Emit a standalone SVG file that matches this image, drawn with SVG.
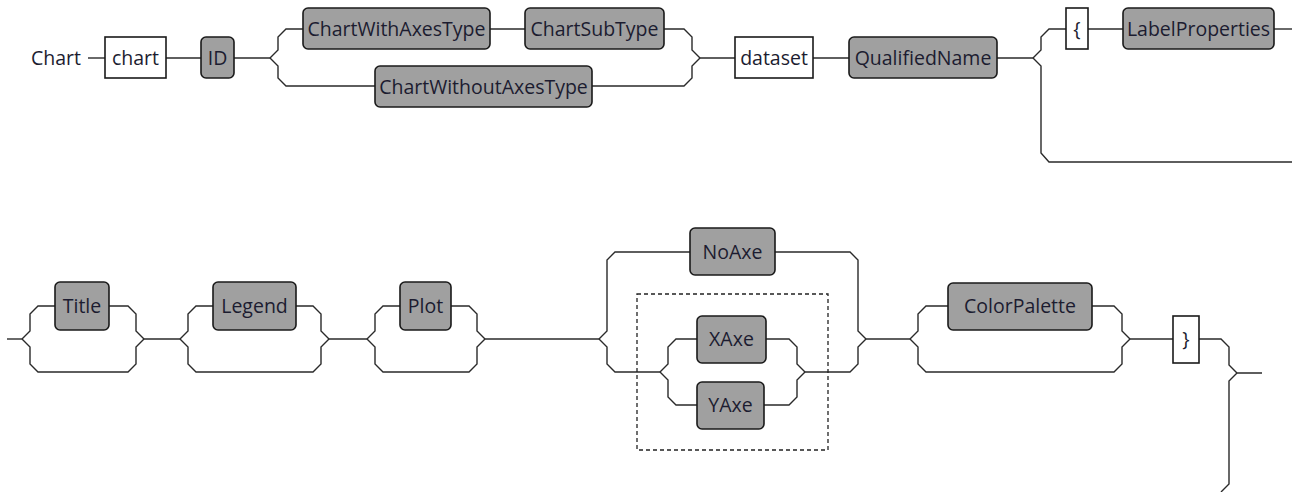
<svg xmlns="http://www.w3.org/2000/svg" width="1292" height="492" viewBox="0 0 1292 492">
<style>
.t{font-family:"Open Sans","DejaVu Sans",sans-serif;font-size:19.5px;fill:#1c1c30;text-anchor:middle}
.nt{fill:#a0a0a0;stroke:#1a1a1a;stroke-width:1.6}
.tm{fill:#ffffff;stroke:#1a1a1a;stroke-width:1.6}
.c{fill:none;stroke:#2a2a2a;stroke-width:1.4}
.d{fill:none;stroke:#222222;stroke-width:1.3;stroke-dasharray:4 3}
</style>
<rect width="1292" height="492" fill="#ffffff"/>
<g id="connectors">
<path class="c" d="M88,58 H105"/>
<path class="c" d="M166,58 H201"/>
<path class="c" d="M234,58 H270"/>
<path class="c" d="M270,58 L278,50 V37 L286,29 H303"/>
<path class="c" d="M490,29 H525"/>
<path class="c" d="M664,29 H684 L692,37 V50 L700,58"/>
<path class="c" d="M270,58 L278,66 V78 L286,86 H375"/>
<path class="c" d="M592,86 H684 L692,78 V66 L700,58"/>
<path class="c" d="M700,58 H735"/>
<path class="c" d="M813,58 H849"/>
<path class="c" d="M997,58 H1033"/>
<path class="c" d="M1033,58 L1041,50 V37 L1049,29 H1066"/>
<path class="c" d="M1088,29 H1123"/>
<path class="c" d="M1274,29 H1292"/>
<path class="c" d="M1033,58 L1041,66 V153 L1049,162 H1292"/>
<path class="c" d="M7,339 H22"/>
<path class="c" d="M22,339 L30,331 V314 L38,306 H55"/>
<path class="c" d="M109,306 H128 L136,314 V331 L144,339"/>
<path class="c" d="M22,339 L30,347 V364 L38,372 H128 L136,364 V347 L144,339"/>
<path class="c" d="M144,339 H180"/>
<path class="c" d="M180,339 L188,331 V314 L196,306 H213"/>
<path class="c" d="M296,306 H313 L321,314 V331 L329,339"/>
<path class="c" d="M180,339 L188,347 V364 L196,372 H313 L321,364 V347 L329,339"/>
<path class="c" d="M329,339 H367"/>
<path class="c" d="M367,339 L375,331 V314 L383,306 H400"/>
<path class="c" d="M451,306 H469 L477,314 V331 L485,339"/>
<path class="c" d="M367,339 L375,347 V364 L383,372 H469 L477,364 V347 L485,339"/>
<path class="c" d="M485,339 H599"/>
<path class="c" d="M599,339 L607,331 V260 L615,252 H690"/>
<path class="c" d="M775,252 H850 L858,260 V331 L866,339"/>
<path class="c" d="M599,339 L607,347 V364 L615,372 H660"/>
<path class="c" d="M660,372 L668,364 V347 L676,339 H697"/>
<path class="c" d="M766,339 H789 L797,347 V364 L805,372"/>
<path class="c" d="M660,372 L668,380 V397 L676,405 H697"/>
<path class="c" d="M764,405 H789 L797,397 V380 L805,372"/>
<path class="c" d="M805,372 H850 L858,364 V347 L866,339"/>
<path class="c" d="M866,339 H910"/>
<path class="c" d="M910,339 L918,331 V314 L926,306 H948"/>
<path class="c" d="M1092,306 H1114 L1122,314 V331 L1130,339"/>
<path class="c" d="M910,339 L918,347 V364 L926,372 H1114 L1122,364 V347 L1130,339"/>
<path class="c" d="M1130,339 H1173"/>
<path class="c" d="M1199,339 H1221 L1229,347 V365 L1237,373 H1262"/>
<path class="c" d="M1237,373 L1229,381 V484 L1221,492"/>
<rect class="d" x="637" y="294" width="191" height="156"/>
</g>
<g id="label-Chart"><text class="t" x="56" y="65">Chart</text></g>
<g id="n-chart"><rect class="tm" x="105" y="37" width="61" height="41"/><text class="t" x="135.5" y="65">chart</text></g>
<g id="n-ID"><rect class="nt" x="201" y="37" width="33" height="41" rx="5"/><text class="t" x="217.5" y="65">ID</text></g>
<g id="n-ChartWithAxesType"><rect class="nt" x="303" y="8" width="187" height="41" rx="5"/><text class="t" x="396.5" y="36">ChartWithAxesType</text></g>
<g id="n-ChartSubType"><rect class="nt" x="525" y="8" width="139" height="41" rx="5"/><text class="t" x="594.5" y="36">ChartSubType</text></g>
<g id="n-ChartWithoutAxesType"><rect class="nt" x="375" y="66" width="217" height="41" rx="5"/><text class="t" x="483.5" y="94">ChartWithoutAxesType</text></g>
<g id="n-dataset"><rect class="tm" x="735" y="37" width="78" height="41"/><text class="t" x="774" y="65">dataset</text></g>
<g id="n-QualifiedName"><rect class="nt" x="849" y="37" width="148" height="41" rx="5"/><text class="t" x="923" y="65">QualifiedName</text></g>
<g id="n-lbrace"><rect class="tm" x="1066" y="8" width="22" height="41"/><text class="t" x="1077" y="36">{</text></g>
<g id="n-LabelProperties"><rect class="nt" x="1123" y="8" width="151" height="41" rx="5"/><text class="t" x="1198.5" y="36">LabelProperties</text></g>
<g id="n-Title"><rect class="nt" x="55" y="282" width="54" height="48" rx="5"/><text class="t" x="82" y="313">Title</text></g>
<g id="n-Legend"><rect class="nt" x="213" y="282" width="83" height="48" rx="5"/><text class="t" x="254.5" y="313">Legend</text></g>
<g id="n-Plot"><rect class="nt" x="400" y="282" width="51" height="48" rx="5"/><text class="t" x="425.5" y="313">Plot</text></g>
<g id="n-NoAxe"><rect class="nt" x="690" y="228" width="85" height="47" rx="5"/><text class="t" x="732.5" y="259">NoAxe</text></g>
<g id="n-XAxe"><rect class="nt" x="697" y="316" width="69" height="47" rx="5"/><text class="t" x="731.5" y="346">XAxe</text></g>
<g id="n-YAxe"><rect class="nt" x="697" y="382" width="67" height="47" rx="5"/><text class="t" x="730.5" y="412">YAxe</text></g>
<g id="n-ColorPalette"><rect class="nt" x="948" y="283" width="144" height="47" rx="5"/><text class="t" x="1020" y="313">ColorPalette</text></g>
<g id="n-rbrace"><rect class="tm" x="1173" y="316" width="26" height="47"/><text class="t" x="1186" y="346">}</text></g>
</svg>
